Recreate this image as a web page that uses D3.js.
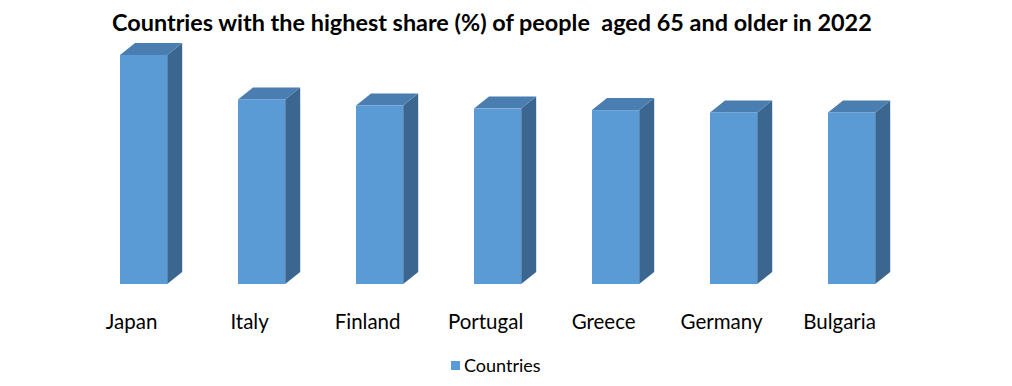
<!DOCTYPE html>
<html>
<head>
<meta charset="utf-8">
<script src="https://cdn.jsdelivr.net/npm/d3@7"></script>
<style>
  body { margin: 0; background: #fff; }
  svg { display: block; }
  text { font-family: Lato, "Open Sans", sans-serif; fill: #000; }
</style>
</head>
<body>
<div id="chart"></div>
<script>
// data
const countries = ["Japan", "Italy", "Finland", "Portugal", "Greece", "Germany", "Bulgaria"]
const shares = [29.9, 24.1, 23.3, 22.9, 22.7, 22.4, 22.4]
const seriesName = "Countries"
const title = "Countries with the highest share (%) of people  aged 65 and older in 2022"

// setup
const width = 1012
const height = 386
const depth = {x: 15, y: 12}
const colors = {front: "#5b9bd5", top: "#4a7db0", side: "#3b6690"}

const svg = d3.select("#chart").append("svg")
  .attr("width", width)
  .attr("height", height)

const x = d3.scaleBand()
  .domain(countries)
  .range([120, 875.2])
  .paddingInner(0.6)
  .paddingOuter(0)

const y = d3.scaleLinear()
  .domain([0, 30])
  .range([284, 54.2])

// bars
const data = countries.map((c, i) => ({country: c, value: shares[i]}))

const bar = svg.append("g").selectAll("g")
  .data(data)
  .join("g")

// side face
bar.append("path")
  .attr("fill", colors.side)
  .attr("d", d => {
    const x1 = x(d.country) + x.bandwidth()
    const y0 = y(0), y1 = y(d.value)
    return `M${x1},${y1}L${x1 + depth.x},${y1 - depth.y}L${x1 + depth.x},${y0 - depth.y}L${x1},${y0}Z`
  })

// top face
bar.append("path")
  .attr("fill", colors.top)
  .attr("d", d => {
    const x0 = x(d.country), x1 = x0 + x.bandwidth()
    const y1 = y(d.value)
    return `M${x0},${y1}L${x0 + depth.x},${y1 - depth.y}L${x1 + depth.x},${y1 - depth.y}L${x1},${y1}Z`
  })

// front face
bar.append("rect")
  .attr("fill", colors.front)
  .attr("x", d => x(d.country))
  .attr("y", d => y(d.value))
  .attr("width", x.bandwidth())
  .attr("height", d => y(0) - y(d.value))

// category labels
svg.append("g").selectAll("text")
  .data(countries)
  .join("text")
  .attr("x", d => x(d) + x.bandwidth() / 2 - 12)
  .attr("y", 329)
  .attr("text-anchor", "middle")
  .style("font-size", "20.5px")
  .text(d => d)

// title
const titleText = svg.append("text")
  .attr("x", 112)
  .attr("y", 31)
  .style("font-size", "20px")
  .style("font-weight", "bold")
  .style("white-space", "pre")
  .text(title)

// squeeze title to the reference width
const tw = titleText.node().getComputedTextLength()
titleText.style("font-size", `${20 * 760 / tw}px`)

// legend
const legend = svg.append("g")
legend.append("rect")
  .attr("x", 451)
  .attr("y", 361)
  .attr("width", 9)
  .attr("height", 9)
  .attr("fill", colors.front)
legend.append("text")
  .attr("x", 464)
  .attr("y", 372)
  .style("font-size", "18px")
  .text(seriesName)
</script>
</body>
</html>
